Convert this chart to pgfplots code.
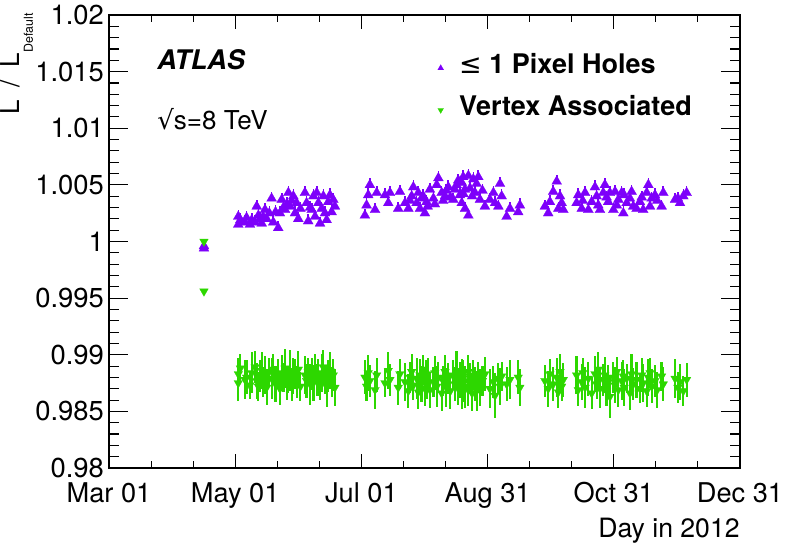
\documentclass[border=0pt]{standalone}
\usepackage{pgfplots}
\pgfplotsset{compat=1.18}
\usepackage{pgfplotstable}
\usepackage{fontspec}
\setmainfont{TeX Gyre Heros}
\newfontfamily\dejavu{DejaVu Sans}
\definecolor{atlaspurple}{RGB}{125,0,250}
\definecolor{atlasgreen}{RGB}{45,215,0}

\pgfplotstableread{
d v e
106.9 0.9994 0.0001
106.9 0.9996 0.0001
123.5 1.0022 0.0006
123.5 1.0015 0.0006
124.5 1.0019 0.0006
126.7 1.0017 0.0006
127.5 1.0021 0.0006
129.1 1.0015 0.0006
130.0 1.0019 0.0006
131.6 1.0017 0.0006
132.4 1.0031 0.0006
133.2 1.0023 0.0006
134.0 1.0020 0.0006
134.8 1.0016 0.0006
135.5 1.0022 0.0006
136.4 1.0028 0.0006
137.2 1.0020 0.0006
138.5 1.0025 0.0006
139.6 1.0038 0.0006
140.4 1.0017 0.0006
141.5 1.0026 0.0006
142.8 1.0012 0.0006
143.6 1.0025 0.0006
144.5 1.0037 0.0006
145.3 1.0030 0.0006
146.1 1.0028 0.0006
147.0 1.0033 0.0006
147.7 1.0043 0.0006
148.5 1.0031 0.0006
149.3 1.0036 0.0006
150.1 1.0040 0.0006
150.9 1.0025 0.0006
151.7 1.0034 0.0006
152.5 1.0020 0.0006
153.5 1.0029 0.0006
155.7 1.0043 0.0006
156.5 1.0034 0.0006
157.3 1.0018 0.0006
158.2 1.0030 0.0006
159.0 1.0028 0.0006
159.8 1.0040 0.0006
160.6 1.0022 0.0006
161.4 1.0043 0.0006
162.2 1.0034 0.0006
163.0 1.0016 0.0006
163.8 1.0029 0.0006
164.6 1.0040 0.0006
165.4 1.0025 0.0006
166.2 1.0019 0.0006
167.0 1.0035 0.0006
167.8 1.0041 0.0006
168.6 1.0026 0.0006
169.4 1.0037 0.0006
170.2 1.0031 0.0006
184.7 1.0023 0.0006
185.5 1.0032 0.0006
186.3 1.0041 0.0006
187.1 1.0050 0.0006
189.6 1.0028 0.0006
190.4 1.0043 0.0006
194.4 1.0041 0.0006
196.0 1.0034 0.0006
196.8 1.0043 0.0006
200.8 1.0029 0.0006
201.6 1.0044 0.0006
204.1 1.0034 0.0006
205.7 1.0029 0.0006
206.5 1.0036 0.0006
207.3 1.0040 0.0006
208.1 1.0048 0.0006
209.7 1.0034 0.0006
210.5 1.0043 0.0006
211.3 1.0029 0.0006
212.0 1.0038 0.0006
212.9 1.0040 0.0006
213.7 1.0025 0.0006
214.5 1.0035 0.0006
215.0 1.0031 0.0006
216.1 1.0046 0.0006
217.8 1.0038 0.0006
218.5 1.0033 0.0006
219.4 1.0050 0.0006
220.2 1.0056 0.0006
221.8 1.0043 0.0006
222.5 1.0036 0.0006
223.4 1.0040 0.0006
224.0 1.0045 0.0006
225.0 1.0048 0.0006
226.0 1.0039 0.0006
227.4 1.0037 0.0006
228.2 1.0046 0.0006
229.0 1.0050 0.0006
229.8 1.0054 0.0006
230.6 1.0041 0.0006
231.5 1.0034 0.0006
231.5 1.0052 0.0006
232.2 1.0057 0.0006
232.3 1.0042 0.0006
233.0 1.0046 0.0006
233.1 1.0029 0.0006
234.7 1.0023 0.0006
234.7 1.0058 0.0006
235.5 1.0047 0.0006
236.5 1.0040 0.0006
237.1 1.0055 0.0006
237.9 1.0043 0.0006
238.7 1.0051 0.0006
239.5 1.0057 0.0006
240.3 1.0037 0.0006
241.5 1.0045 0.0006
242.7 1.0031 0.0006
245.1 1.0037 0.0006
246.8 1.0043 0.0006
247.6 1.0034 0.0006
249.2 1.0031 0.0006
250.0 1.0051 0.0006
250.8 1.0040 0.0006
253.2 1.0022 0.0006
254.8 1.0029 0.0006
258.8 1.0026 0.0006
259.6 1.0032 0.0006
271.7 1.0031 0.0006
273.3 1.0025 0.0006
274.1 1.0035 0.0006
275.7 1.0044 0.0006
277.4 1.0053 0.0006
278.2 1.0029 0.0006
279.0 1.0040 0.0006
279.8 1.0034 0.0006
280.6 1.0028 0.0006
287.0 1.0034 0.0006
287.8 1.0041 0.0006
289.5 1.0029 0.0006
290.0 1.0036 0.0006
291.1 1.0043 0.0006
292.7 1.0028 0.0006
294.3 1.0035 0.0006
295.9 1.0048 0.0006
296.7 1.0040 0.0006
297.5 1.0032 0.0006
298.3 1.0028 0.0006
299.9 1.0043 0.0006
300.7 1.0050 0.0006
301.5 1.0039 0.0006
302.3 1.0035 0.0006
303.1 1.0043 0.0006
304.8 1.0028 0.0006
305.6 1.0044 0.0006
306.4 1.0032 0.0006
307.2 1.0037 0.0006
308.8 1.0043 0.0006
309.6 1.0025 0.0006
310.0 1.0041 0.0006
311.2 1.0034 0.0006
312.8 1.0038 0.0006
313.6 1.0044 0.0006
314.4 1.0031 0.0006
316.0 1.0029 0.0006
317.6 1.0035 0.0006
318.5 1.0039 0.0006
319.2 1.0028 0.0006
320.9 1.0043 0.0006
321.7 1.0050 0.0006
322.5 1.0031 0.0006
323.3 1.0038 0.0006
324.9 1.0041 0.0006
326.0 1.0036 0.0006
328.1 1.0031 0.0006
328.9 1.0043 0.0006
334.6 1.0037 0.0006
336.0 1.0038 0.0006
337.0 1.0034 0.0006
338.6 1.0040 0.0006
340.2 1.0043 0.0006
}\purpletab

\pgfplotstableread{
d v e
106.9 1.0000 0.0001
106.9 0.9956 0.0001
123.5 0.9883 0.0014
123.5 0.9875 0.0016
124.5 0.9888 0.0013
126.7 0.9878 0.0017
127.5 0.9880 0.0015
129.1 0.9873 0.0012
130.0 0.9884 0.0018
131.6 0.9889 0.0014
132.4 0.9877 0.0016
133.2 0.9872 0.0013
134.0 0.9881 0.0014
134.8 0.9886 0.0016
135.5 0.9876 0.0013
136.4 0.9882 0.0017
137.2 0.9871 0.0015
138.5 0.9885 0.0012
139.6 0.9879 0.0018
140.4 0.9887 0.0014
141.5 0.9874 0.0016
142.8 0.9883 0.0013
143.6 0.9870 0.0014
144.5 0.9884 0.0016
145.3 0.9880 0.0013
146.1 0.9888 0.0017
147.0 0.9875 0.0015
147.7 0.9878 0.0012
148.5 0.9886 0.0018
149.3 0.9873 0.0014
150.1 0.9881 0.0016
150.9 0.9883 0.0013
151.7 0.9876 0.0014
152.5 0.9887 0.0016
153.5 0.9872 0.0013
155.7 0.9882 0.0017
156.5 0.9877 0.0015
157.3 0.9885 0.0012
158.2 0.9874 0.0018
159.0 0.9883 0.0014
159.8 0.9875 0.0016
160.6 0.9888 0.0013
161.4 0.9878 0.0014
162.2 0.9880 0.0016
163.0 0.9873 0.0013
163.8 0.9884 0.0017
164.6 0.9889 0.0015
165.4 0.9877 0.0012
166.2 0.9872 0.0018
167.0 0.9881 0.0014
167.8 0.9886 0.0016
168.6 0.9876 0.0013
169.4 0.9882 0.0014
170.2 0.9871 0.0016
184.7 0.9880 0.0015
185.5 0.9872 0.0013
186.3 0.9884 0.0016
187.1 0.9877 0.0014
189.6 0.9869 0.0017
190.4 0.9882 0.0015
194.4 0.9875 0.0012
196.0 0.9886 0.0016
196.8 0.9878 0.0014
200.8 0.9871 0.0015
201.6 0.9883 0.0013
204.1 0.9876 0.0017
205.7 0.9868 0.0015
206.5 0.9880 0.0014
207.3 0.9885 0.0016
208.1 0.9873 0.0013
209.7 0.9879 0.0018
210.5 0.9867 0.0015
211.3 0.9882 0.0014
212.0 0.9874 0.0016
212.9 0.9887 0.0013
213.7 0.9870 0.0015
214.5 0.9878 0.0017
215.0 0.9883 0.0014
216.1 0.9869 0.0016
217.8 0.9876 0.0013
218.5 0.9884 0.0015
219.4 0.9872 0.0018
220.2 0.9880 0.0014
221.8 0.9866 0.0016
222.5 0.9877 0.0013
223.4 0.9885 0.0015
224.0 0.9871 0.0017
225.0 0.9879 0.0014
226.0 0.9868 0.0016
227.4 0.9882 0.0013
228.2 0.9874 0.0015
229.0 0.9886 0.0017
229.8 0.9870 0.0014
230.6 0.9878 0.0016
231.5 0.9883 0.0013
231.5 0.9867 0.0015
232.2 0.9876 0.0018
232.3 0.9881 0.0014
233.0 0.9869 0.0016
233.1 0.9877 0.0013
234.7 0.9885 0.0015
234.7 0.9872 0.0017
235.5 0.9879 0.0014
236.5 0.9866 0.0016
237.1 0.9882 0.0013
237.9 0.9874 0.0015
238.7 0.9868 0.0018
239.5 0.9880 0.0014
240.3 0.9871 0.0016
241.5 0.9877 0.0013
242.7 0.9883 0.0015
245.1 0.9870 0.0017
246.8 0.9876 0.0014
247.6 0.9864 0.0020
249.2 0.9879 0.0014
250.0 0.9872 0.0016
250.8 0.9881 0.0013
253.2 0.9874 0.0015
254.8 0.9878 0.0017
258.8 0.9880 0.0015
259.6 0.9871 0.0016
271.7 0.9877 0.0014
273.3 0.9870 0.0016
274.1 0.9883 0.0013
275.7 0.9874 0.0015
277.4 0.9880 0.0017
278.2 0.9867 0.0014
279.0 0.9885 0.0016
279.8 0.9872 0.0013
280.6 0.9878 0.0015
287.0 0.9882 0.0017
287.8 0.9869 0.0014
289.5 0.9876 0.0016
290.0 0.9884 0.0013
291.1 0.9871 0.0018
292.7 0.9879 0.0015
294.3 0.9866 0.0014
295.9 0.9883 0.0016
296.7 0.9874 0.0013
297.5 0.9887 0.0015
298.3 0.9870 0.0017
299.9 0.9878 0.0014
300.7 0.9882 0.0016
301.5 0.9868 0.0013
302.3 0.9876 0.0015
303.1 0.9863 0.0019
304.8 0.9880 0.0014
305.6 0.9873 0.0016
306.4 0.9885 0.0013
307.2 0.9869 0.0015
308.8 0.9877 0.0017
309.6 0.9881 0.0014
310.0 0.9871 0.0016
311.2 0.9879 0.0013
312.8 0.9866 0.0015
313.6 0.9883 0.0018
314.4 0.9874 0.0014
316.0 0.9878 0.0016
317.6 0.9870 0.0013
318.5 0.9882 0.0015
319.2 0.9875 0.0017
320.9 0.9868 0.0014
321.7 0.9880 0.0016
322.5 0.9884 0.0013
323.3 0.9872 0.0015
324.9 0.9877 0.0014
326.0 0.9869 0.0016
328.1 0.9881 0.0013
328.9 0.9874 0.0015
334.6 0.9879 0.0017
336.0 0.9871 0.0014
337.0 0.9876 0.0016
338.6 0.9868 0.0013
340.2 0.9878 0.0015
}\greentab

\begin{document}
\begin{tikzpicture}
\useasboundingbox (-54.5pt,-39pt) rectangle (338.5pt,234pt);
% axis carrying the y ticks (longer ticks)
\begin{axis}[
  at={(0pt,0pt)}, anchor=south west,
  scale only axis, width=315.5pt, height=226.5pt,
  xmin=61, xmax=366, ymin=0.98, ymax=1.02,
  xtick=\empty,
  ytick={0.98,0.985,0.99,0.995,1,1.005,1.01,1.015,1.02},
  yticklabels={0.98,0.985,0.99,0.995,1,1.005,1.01,1.015,1.02},
  minor y tick num=4,
  tick align=inside,
  major tick length=9.5pt, minor tick length=5pt,
  axis line style={line width=0.75pt},
  tick style={line width=0.55pt, black},
  yticklabel style={font=\fontsize{13.7}{16}\selectfont, inner ysep=0pt, xshift=1pt},
]
\end{axis}
% axis carrying the x ticks and the data
\begin{axis}[
  at={(0pt,0pt)}, anchor=south west,
  scale only axis, width=315.5pt, height=226.5pt,
  xmin=61, xmax=366, ymin=0.98, ymax=1.02,
  ytick=\empty,
  xtick={61,122,183,244,305,366},
  xticklabels={Mar 01,May 01,Jul 01,Aug 31,Oct 31,Dec 31},
  minor x tick num=2,
  tick align=inside,
  major tick length=7pt, minor tick length=3.5pt,
  axis line style={line width=0.75pt},
  tick style={line width=0.55pt, black},
  xticklabel style={font=\fontsize{13.6}{16}\selectfont, inner ysep=0pt, yshift=-7pt},
  legend style={at={(axis description cs:0.521,0.916)}, anchor=north west,
    draw=none, fill=none, inner sep=0pt, outer sep=0pt,
    row sep=9pt, column sep=7.8pt,
    font=\fontsize{13.5}{16}\selectfont\bfseries,
    nodes={inner sep=0pt, text height=10pt, text depth=2pt, anchor=base west}},
  legend cell align=left,
  legend image code/.code={\draw[#1, mark size=1.7pt] plot coordinates {(0pt,2.5pt)};},
]
\addplot[atlaspurple, only marks, mark=triangle*, mark size=2.9pt,
  mark options={fill=atlaspurple, draw=atlaspurple, line width=0.1pt},
  error bars/.cd, y dir=plus, y explicit, error mark=none,
  error bar style={line width=0.8pt, atlaspurple}]
  table[x=d, y=v, y error=e] {\purpletab};
\addlegendentry{{\dejavu\mdseries ≤} 1 Pixel Holes}
\addplot[atlasgreen, only marks, mark=triangle*, mark size=2.5pt,
  mark options={rotate=180, fill=atlasgreen, draw=atlasgreen, line width=0.1pt},
  error bars/.cd, y dir=both, y explicit, error mark=none,
  error bar style={line width=1.1pt, atlasgreen}]
  table[x=d, y=v, y error=e] {\greentab};
\addlegendentry{Vertex Associated}
\end{axis}
\node[anchor=base west, inner sep=0pt, font=\fontsize{13.5}{16}\selectfont\bfseries\itshape] at (24pt,199pt) {ATLAS};
\node[anchor=base west, inner sep=0pt, font=\fontsize{13}{16}\selectfont] at (24pt,169pt) {{\dejavu √}s=8 TeV};
\node[rotate=90, anchor=base east, inner sep=0pt, font=\fontsize{13}{15}\selectfont] at (-44.5pt,227.5pt) {L\hspace{0.5em}/\hspace{0.5em}L\raisebox{-6.5pt}{\fontsize{6.2}{7}\selectfont Default}};
\node[anchor=base east, inner sep=0pt, font=\fontsize{13.3}{16}\selectfont] at (315.5pt,-34.5pt) {Day in 2012};
\end{tikzpicture}
\end{document}
